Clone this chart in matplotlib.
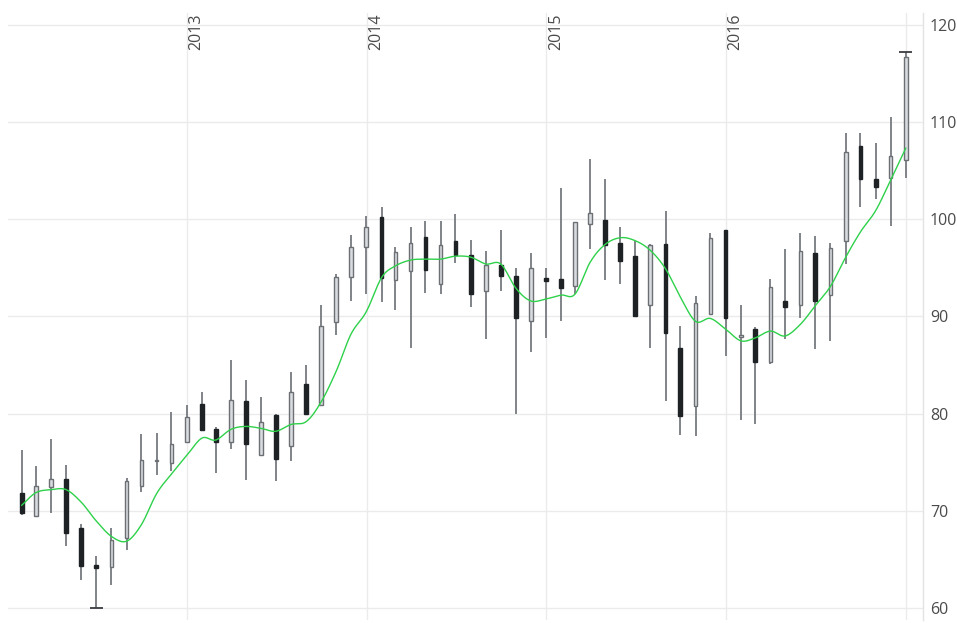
import matplotlib
matplotlib.use("Agg")
import matplotlib.pyplot as plt
import matplotlib.dates as mdates
import matplotlib.transforms as mtransforms
import pandas as pd
import numpy as np

# ---- data (monthly candles, month-end dates) ----
dates = pd.date_range("2012-01-31", periods=60, freq="ME")

opens = [71.9, 69.5, 72.5, 73.3, 68.3, 64.5, 64.2, 67.2, 72.6, 75.1,
         74.9, 77.1, 81.0, 78.4, 77.1, 81.3, 75.8, 79.9, 76.7, 83.1,
         80.9, 89.4, 94.1, 97.1, 100.2, 93.8, 94.7, 98.2, 93.3, 97.8,
         96.3, 92.6, 95.3, 94.2, 89.5, 94.0, 93.9, 93.1, 99.5, 99.9,
         97.6, 96.2, 91.2, 97.5, 86.8, 80.8, 90.3, 98.9, 87.9, 88.7,
         85.3, 91.6, 91.2, 96.5, 92.2, 97.8, 107.5, 104.1, 104.2, 106.1]
highs = [76.3, 74.6, 77.4, 74.7, 68.7, 65.4, 68.3, 73.4, 77.9, 78.0,
         80.2, 80.9, 82.2, 78.6, 85.5, 83.5, 81.7, 80.0, 84.3, 85.0,
         91.2, 94.4, 98.4, 100.3, 101.3, 97.1, 99.2, 99.8, 99.8, 100.5,
         97.9, 96.7, 98.9, 95.0, 96.5, 95.0, 103.2, 99.7, 106.2, 104.1,
         99.2, 97.8, 97.5, 100.8, 89.0, 92.1, 98.6, 98.9, 91.2, 88.9,
         93.9, 96.9, 98.6, 98.3, 97.6, 108.9, 108.9, 107.8, 110.5, 117.2]
lows = [69.6, 69.4, 69.8, 66.4, 62.9, 60.0, 62.4, 66.0, 72.0, 73.7,
        74.1, 77.0, 78.2, 73.9, 76.4, 73.2, 75.7, 73.1, 75.1, 80.0,
        80.9, 88.1, 91.6, 92.3, 91.5, 90.7, 86.8, 92.4, 92.3, 95.5,
        91.0, 87.7, 92.6, 80.0, 86.4, 87.8, 89.5, 92.3, 96.9, 93.8,
        93.3, 90.1, 86.8, 81.3, 77.8, 77.7, 90.3, 85.9, 79.4, 79.0,
        85.1, 87.7, 89.8, 86.7, 87.5, 95.4, 101.3, 102.1, 99.3, 104.2]
closes = [69.8, 72.6, 73.3, 67.7, 64.4, 64.1, 67.0, 73.1, 75.2, 75.2,
          76.9, 79.7, 78.3, 77.1, 81.4, 76.9, 79.2, 75.3, 82.2, 80.0,
          89.0, 94.1, 97.1, 99.2, 94.0, 96.6, 97.6, 94.8, 97.3, 96.3,
          92.3, 95.3, 94.2, 89.8, 95.0, 93.6, 92.9, 99.7, 100.6, 97.4,
          95.7, 90.1, 97.4, 88.3, 79.8, 91.4, 98.1, 89.8, 88.1, 85.3,
          93.0, 91.0, 96.7, 91.6, 97.0, 106.9, 104.1, 103.3, 106.5, 116.7]
moving_avg = [70.6, 71.9, 72.2, 72.2, 70.9, 69.0, 67.4, 66.9, 68.6, 71.8,
              73.8, 75.7, 77.5, 77.3, 78.4, 78.7, 78.5, 78.2, 78.9, 79.2,
              81.2, 84.4, 88.2, 90.5, 94.0, 95.2, 95.8, 95.9, 95.9, 96.2,
              96.1, 95.4, 95.4, 92.9, 91.6, 91.8, 92.2, 92.3, 95.6, 97.4,
              98.1, 97.8, 96.8, 94.9, 92.0, 89.5, 89.8, 88.7, 87.5, 87.8,
              88.5, 88.0, 89.2, 91.1, 93.1, 96.1, 98.7, 100.9, 104.0, 107.3]

year_ticks = ["2013-01-01", "2014-01-01", "2015-01-01", "2016-01-01", "2017-01-01"]
year_labels = ["2013", "2014", "2015", "2016", ""]
y_ticks = [60, 70, 80, 90, 100, 110, 120]

# ---- style ----
FONT = ["Open Sans", "DejaVu Sans"]
UP_FILL = "#d9dcdf"
UP_EDGE = "#6c7074"
DOWN_FILL = "#1e2225"
WICK = "#808488"
MA_COLOR = "#2ed14a"
GRID = "#ebebeb"
TXT = "#4a4a4a"


def catmull_rom(x, y, n=12, tension=0.5):
    """Smooth curve drawn through the given points (rendering only)."""
    x = np.asarray(x, float)
    y = np.asarray(y, float)
    px = np.concatenate([[2 * x[0] - x[1]], x, [2 * x[-1] - x[-2]]])
    py = np.concatenate([[2 * y[0] - y[1]], y, [2 * y[-1] - y[-2]]])
    xs, ys = [], []
    t = np.linspace(0, 1, n, endpoint=False)
    for i in range(1, len(px) - 2):
        p0, p1, p2, p3 = py[i - 1], py[i], py[i + 1], py[i + 2]
        q0, q1, q2, q3 = px[i - 1], px[i], px[i + 1], px[i + 2]
        m1y = tension * (p2 - p0)
        m2y = tension * (p3 - p1)
        m1x = tension * (q2 - q0)
        m2x = tension * (q3 - q1)
        h00 = 2 * t**3 - 3 * t**2 + 1
        h10 = t**3 - 2 * t**2 + t
        h01 = -2 * t**3 + 3 * t**2
        h11 = t**3 - t**2
        xs.append(h00 * q1 + h10 * m1x + h01 * q2 + h11 * m2x)
        ys.append(h00 * p1 + h10 * m1y + h01 * p2 + h11 * m2y)
    xs.append([x[-1]])
    ys.append([y[-1]])
    return np.concatenate(xs), np.concatenate(ys)


fig = plt.figure(figsize=(9.57, 6.23), dpi=100)
ax = fig.add_axes([8 / 957, 1 - 620 / 623, (923 - 8) / 957, (620 - 13) / 623])

xd = mdates.date2num(dates)
body_w = 7.5  # days

for x, o, h, l, c in zip(xd, opens, highs, lows, closes):
    ax.vlines(x, l, h, color=WICK, lw=1.4, zorder=2)
    lo, hi = min(o, c), max(o, c)
    hgt = max(hi - lo, 0.12)
    if c >= o:
        rect = plt.Rectangle((x - body_w / 2, lo), body_w, hgt, facecolor=UP_FILL,
                             edgecolor=UP_EDGE, lw=1.0, zorder=3)
    else:
        rect = plt.Rectangle((x - body_w / 2, lo), body_w, hgt, facecolor=DOWN_FILL,
                             edgecolor=DOWN_FILL, lw=1.0, zorder=3)
    ax.add_patch(rect)

# extreme markers (overall max high and min low)
i_max = int(np.argmax(highs))
i_min = int(np.argmin(lows))
cap_w = 13
ax.hlines(highs[i_max], xd[i_max] - cap_w, xd[i_max] + cap_w, color="#3a3d40", lw=1.3, zorder=4)
ax.hlines(lows[i_min], xd[i_min] - cap_w, xd[i_min] + cap_w, color="#3a3d40", lw=1.3, zorder=4)

sx, sy = catmull_rom(xd, moving_avg)
ax.plot(sx, sy, color=MA_COLOR, lw=1.0, zorder=5)

# axes
ax.set_xlim(mdates.date2num(pd.Timestamp("2012-01-03")), mdates.date2num(pd.Timestamp("2017-02-04")))
ax.set_ylim(58.8, 121.2)

ax.yaxis.tick_right()
ax.set_yticks(y_ticks)
ax.set_yticklabels([str(v) for v in y_ticks], fontfamily=FONT, fontsize=11.5, color=TXT)
ax.tick_params(axis="y", length=0, pad=5)

xt = mdates.date2num(pd.to_datetime(year_ticks))
ax.set_xticks(xt)
ax.set_xticklabels([])
ax.tick_params(axis="x", length=0)
ax.grid(True, color=GRID, lw=1.0, zorder=0)
ax.set_axisbelow(True)

offset = mtransforms.ScaledTranslation(1.5 / 100, -1 / 100, fig.dpi_scale_trans)
trans = mtransforms.blended_transform_factory(ax.transData, ax.transAxes) + offset
for x, lab in zip(xt, year_labels):
    if lab:
        ax.text(x, 1.0, lab, rotation=90, ha="left", va="top", transform=trans,
                fontfamily=FONT, fontsize=11.5, color=TXT, zorder=6)

for s in ["top", "left", "bottom"]:
    ax.spines[s].set_visible(False)
ax.spines["right"].set_color("#e3e3e3")
ax.spines["right"].set_linewidth(1.0)

fig.savefig("out.png", dpi=100)
